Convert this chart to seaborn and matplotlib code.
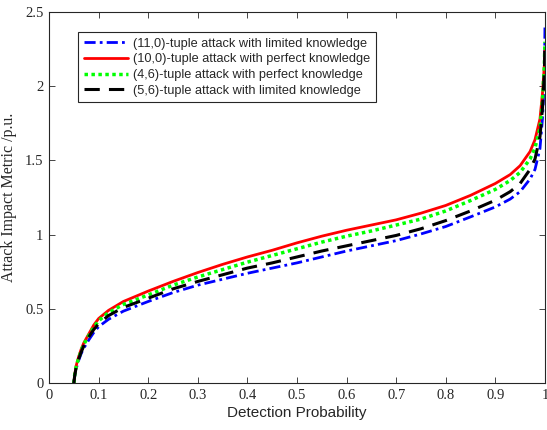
import matplotlib
matplotlib.use('Agg')
import matplotlib.pyplot as plt
import seaborn as sns

# detection probability (shared x grid)
det_prob = [0.05, 0.052, 0.055, 0.06, 0.065, 0.07, 0.08, 0.09, 0.10, 0.12, 0.15, 0.20,
            0.25, 0.30, 0.35, 0.40, 0.45, 0.50, 0.55, 0.60, 0.65, 0.70, 0.75, 0.80,
            0.85, 0.90, 0.93, 0.95, 0.97, 0.98, 0.99, 0.995, 0.999, 1.0]

# attack impact metric /p.u.
imp_11_0_lim = [0, 0.05, 0.10, 0.155, 0.20, 0.235, 0.29, 0.34, 0.38, 0.43, 0.485, 0.55,
                0.61, 0.66, 0.70, 0.74, 0.775, 0.81, 0.85, 0.89, 0.925, 0.96, 1.005, 1.055,
                1.12, 1.187, 1.24, 1.29, 1.375, 1.44, 1.58, 1.78, 2.05, 2.4]
imp_10_0_perf = [0, 0.06, 0.12, 0.18, 0.23, 0.27, 0.33, 0.39, 0.435, 0.49, 0.55, 0.62,
                 0.685, 0.745, 0.80, 0.85, 0.895, 0.945, 0.99, 1.03, 1.065, 1.10, 1.145, 1.197,
                 1.265, 1.345, 1.405, 1.465, 1.56, 1.64, 1.78, 1.95, 2.15, 2.25]
imp_4_6_perf = [0, 0.06, 0.115, 0.17, 0.22, 0.26, 0.32, 0.375, 0.42, 0.475, 0.53, 0.594,
                0.66, 0.715, 0.765, 0.815, 0.86, 0.905, 0.95, 0.99, 1.025, 1.065, 1.105, 1.16,
                1.23, 1.305, 1.365, 1.42, 1.51, 1.585, 1.72, 1.9, 2.15, 2.3]
imp_5_6_lim = [0, 0.055, 0.11, 0.165, 0.21, 0.25, 0.31, 0.36, 0.40, 0.455, 0.51, 0.572,
               0.635, 0.685, 0.73, 0.775, 0.81, 0.85, 0.89, 0.925, 0.96, 0.995, 1.04, 1.095,
               1.16, 1.232, 1.29, 1.345, 1.44, 1.51, 1.66, 1.85, 2.1, 2.3]

labels = ['(11,0)-tuple attack with limited knowledge',
          '(10,0)-tuple attack with perfect knowledge',
          '(4,6)-tuple attack with perfect knowledge',
          '(5,6)-tuple attack with limited knowledge']

sns.set_style('ticks')
plt.rcParams['xtick.direction'] = 'in'
plt.rcParams['ytick.direction'] = 'in'

fig = plt.figure(figsize=(5.47, 4.30), dpi=100)
ax = fig.add_axes([0.0896, 0.109, 0.9066, 0.863])

series = [imp_11_0_lim, imp_10_0_perf, imp_4_6_perf, imp_5_6_lim]
colors = ['#0000ff', '#ff0000', '#00ff00', '#000000']
styles = [(0, (4, 1.5, 1, 1.5)), '-', (0, (1, 1)), (0, (5, 3))]
widths = [2, 2, 2.5, 2.2]

for y, lab, c, ls, lw in zip(series, labels, colors, styles, widths):
    sns.lineplot(x=det_prob, y=y, ax=ax, color=c, linestyle=ls, linewidth=lw,
                 label=lab, sort=False)

ax.set_xlim(0, 1)
ax.set_ylim(0, 2.5)
ax.set_xticks([0, 0.1, 0.2, 0.3, 0.4, 0.5, 0.6, 0.7, 0.8, 0.9, 1])
ax.set_xticklabels(['0', '0.1', '0.2', '0.3', '0.4', '0.5', '0.6', '0.7', '0.8', '0.9', '1'])
ax.set_yticks([0, 0.5, 1, 1.5, 2, 2.5])
ax.set_yticklabels(['0', '0.5', '1', '1.5', '2', '2.5'])
ax.tick_params(top=True, right=True, length=4, width=0.6, labelsize=10.5, pad=4)
for t in ax.get_xticklabels() + ax.get_yticklabels():
    t.set_family('Liberation Serif')
for s in ax.spines.values():
    s.set_linewidth(0.8)
    s.set_color('#262626')

ax.set_xlabel('Detection Probability', family='Liberation Sans', fontsize=11, labelpad=3)
ax.set_ylabel('Attack Impact Metric /p.u.', family='Liberation Serif', fontsize=11.5, labelpad=6)

leg = ax.legend(loc='upper left', bbox_to_anchor=(0.058, 0.946), frameon=True,
                fancybox=False, framealpha=1, edgecolor='#262626',
                prop={'family': 'Liberation Sans', 'size': 9.2},
                handlelength=3.5, handletextpad=0.4, labelspacing=0.28,
                borderpad=0.45, borderaxespad=0)
leg.get_frame().set_linewidth(0.8)

fig.savefig('out.png', dpi=100)
